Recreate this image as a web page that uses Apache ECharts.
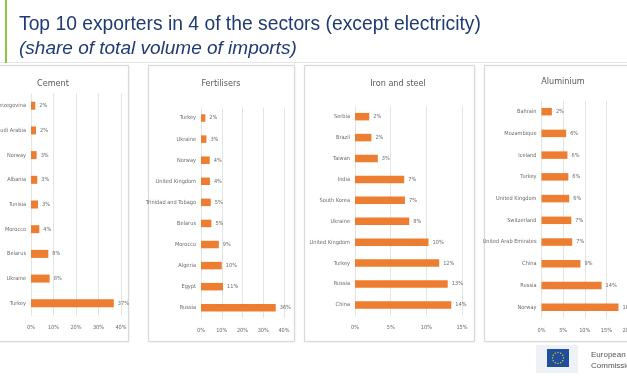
<!DOCTYPE html>
<html>
<head>
<meta charset="utf-8">
<script src="https://cdn.jsdelivr.net/npm/echarts@6/dist/echarts.min.js"></script>
<style>
html,body{margin:0;padding:0;background:#ffffff;}
#chart{width:627px;height:376px;}
</style>
</head>
<body>
<div id="chart"></div>
<script>
// ---- Data ----
const cementCountries = ['Bosnia and Herzegovina','Saudi Arabia','Norway','Albania','Tunisia','Morocco','Belarus','Ukraine','Turkey'];
const cementShares = [1.9, 2.2, 2.5, 2.8, 3.1, 3.7, 7.7, 8.3, 36.8];

const fertCountries = ['Turkey','Ukraine','Norway','United Kingdom','Trinidad and Tobago','Belarus','Morocco','Algeria','Egypt','Russia'];
const fertShares = [2.1, 2.6, 4.2, 4.3, 4.7, 5.0, 8.6, 10.0, 10.6, 36.0];

const ironCountries = ['Serbia','Brazil','Taiwan','India','South Korea','Ukraine','United Kingdom','Turkey','Russia','China'];
const ironShares = [2.0, 2.3, 3.2, 6.9, 7.0, 7.6, 10.3, 11.8, 13.0, 13.5];

const aluCountries = ['Bahrain','Mozambique','Iceland','Turkey','United Kingdom','Switzerland','United Arab Emirates','China','Russia','Norway'];
const aluShares = [2.4, 5.7, 6.0, 6.2, 6.4, 6.9, 7.1, 9.0, 13.9, 17.8];

const panelTitles = ['Cement','Fertilisers','Iron and steel','Aluminium'];
const axisMax = [40, 40, 15, 20];
const axisStep = [10, 10, 5, 5];

const mainTitle = 'Top 10 exporters in 4 of the sectors (except electricity)';
const subTitle = '(share of total volume of imports)';

// ---- Layout ----
const NARROW = '"Liberation Sans Narrow","DejaVu Sans Condensed",sans-serif';
const grids = [
  {left: 31, top: 93.4, width: 90, height: 222.2},
  {left: 201, top: 107.5, width: 83, height: 210.8},
  {left: 355, top: 106.2, width: 107, height: 209.2},
  {left: 541.5, top: 100.8, width: 86.5, height: 217.3}
];
const cats = [cementCountries, fertCountries, ironCountries, aluCountries];
const vals = [cementShares, fertShares, ironShares, aluShares];
const barW = [8, 7.5, 7.5, 7.5];
const titlePos = [[53, 84], [221, 84], [398, 84], [563, 82]];
const cards = [[-6, 65, 134, 276], [148, 65, 146, 276], [304, 65, 170, 276], [484, 65, 150, 276]];

const gray = '#6b6b6b';
const FS = 5.6;

const xAxes = [], yAxes = [], series = [];
for (let i = 0; i < 4; i++) {
  xAxes.push({
    type: 'value', gridIndex: i, min: 0, max: axisMax[i], interval: axisStep[i],
    axisLine: {show: false}, axisTick: {show: false},
    splitLine: {show: true, lineStyle: {color: '#e4e4e4', width: 1}},
    axisLabel: {formatter: '{value}%', color: gray, fontSize: FS, fontFamily: NARROW, margin: 9, hideOverlap: false}
  });
  yAxes.push({
    type: 'category', gridIndex: i, data: cats[i], inverse: true,
    axisLine: {show: false}, axisTick: {show: false},
    axisLabel: {color: gray, fontSize: FS, fontFamily: NARROW, margin: 5, interval: 0}
  });
  series.push({
    type: 'bar', xAxisIndex: i, yAxisIndex: i, data: vals[i], barWidth: barW[i],
    itemStyle: {color: '#ED7D31'},
    label: {show: true, position: 'right', distance: 4, color: gray, fontSize: FS, fontFamily: NARROW,
      formatter: p => Math.round(p.value) + '%'}
  });
}

const graphics = [];
cards.forEach(c => graphics.push({
  type: 'rect', z: -10, shape: {x: c[0] + 0.5, y: c[1] + 0.5, width: c[2], height: c[3]},
  style: {fill: '#ffffff', stroke: '#d9d9d9', lineWidth: 1, shadowBlur: 2, shadowColor: 'rgba(0,0,0,0.08)'}
}));
graphics.push({type: 'line', z: -11, shape: {x1: 0, y1: 62.5, x2: 627, y2: 62.5}, style: {stroke: '#e6e6e6', lineWidth: 1}});
graphics.push({type: 'rect', shape: {x: 5, y: 0, width: 2, height: 63}, style: {fill: '#8cc63f'}});
graphics.push({type: 'text', x: 19, y: 25, style: {text: mainTitle, fill: '#1f3b73', font: '19.3px "Liberation Sans", Arial, sans-serif', verticalAlign: 'middle', align: 'left'}});
graphics.push({type: 'text', x: 19, y: 48.5, style: {text: subTitle, fill: '#1f3b73', font: 'italic 19px "Liberation Sans", Arial, sans-serif', verticalAlign: 'middle', align: 'left'}});
panelTitles.forEach((t, i) => graphics.push({
  type: 'text', x: titlePos[i][0], y: titlePos[i][1],
  style: {text: t, fill: '#595959', font: '9px ' + NARROW, align: 'center', verticalAlign: 'middle'}
}));
// EU logo
graphics.push({type: 'rect', z: -12, shape: {x: 536, y: 345, width: 42, height: 28}, style: {fill: '#eef1f5'}});
graphics.push({type: 'rect', shape: {x: 547, y: 349, width: 22, height: 18}, style: {fill: '#1f4e9c'}});
for (let k = 0; k < 12; k++) {
  const a = k * Math.PI / 6;
  graphics.push({type: 'circle', shape: {cx: 558 + 5.5 * Math.cos(a), cy: 358 + 5.5 * Math.sin(a), r: 0.7}, style: {fill: '#f5d000'}});
}
graphics.push({type: 'text', x: 591, y: 355, style: {text: 'European', fill: '#555', font: '8px "Liberation Sans", Arial, sans-serif', verticalAlign: 'middle'}});
graphics.push({type: 'text', x: 591, y: 366, style: {text: 'Commission', fill: '#555', font: '8px "Liberation Sans", Arial, sans-serif', verticalAlign: 'middle'}});

const chart = echarts.init(document.getElementById('chart'), null, {renderer: 'canvas'});
chart.setOption({
  backgroundColor: '#ffffff',
  animation: false,
  grid: grids.map(g => Object.assign({containLabel: false, outerBoundsMode: 'none'}, g)),
  xAxis: xAxes,
  yAxis: yAxes,
  series: series,
  graphic: graphics
});
</script>
</body>
</html>
